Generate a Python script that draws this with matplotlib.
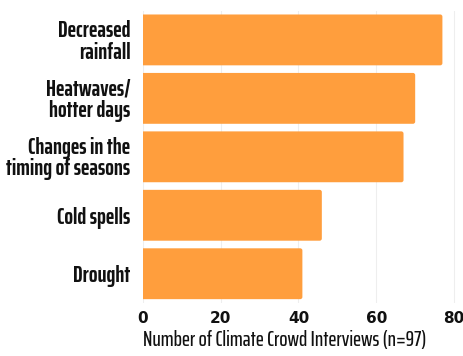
import matplotlib
matplotlib.use('Agg')
import matplotlib.pyplot as plt
from matplotlib.patches import FancyBboxPatch

# Chart data
categories = ['Decreased\nrainfall', 'Heatwaves/\nhotter days', 'Changes in the\ntiming of seasons',
              'Cold spells', 'Drought']
counts = [77, 70, 67, 46, 41]
xticks = [0, 20, 40, 60, 80]
xlabel = 'Number of Climate Crowd Interviews (n=97)'

label_font = ['Saira ExtraCondensed', 'DejaVu Sans']
bar_color = '#FF9E3D'

fig = plt.figure(figsize=(4.64, 3.56), dpi=100)
ax = fig.add_axes([0.308, 0.149, 0.679, 0.821])
ax.set_ylim(len(counts) - 0.5, -0.5)
ax.set_xlim(0, 81)

# bars with slightly rounded ends (left corners fall outside the axes and get clipped)
bars = ax.barh(range(len(counts)), counts, height=0.87, color='none')
px_x = ax.get_position().width * 464 / 81
px_y = ax.get_position().height * 356 / len(counts)
r = 2.2 / px_x
for b in bars:
    p = FancyBboxPatch((-1, b.get_y()), b.get_width() + 1, b.get_height(),
                       boxstyle=f'round,pad=0,rounding_size={r}',
                       mutation_aspect=px_x / px_y,
                       facecolor=bar_color, edgecolor='none', zorder=2)
    ax.add_patch(p)

ax.set_yticks(range(len(categories)))
ax.set_yticklabels(categories, fontsize=16.5, fontweight='bold', family=label_font,
                   linespacing=0.95, color='#111111')
ax.set_xticks(xticks)
ax.set_xticklabels([str(t) for t in xticks], fontsize=11, fontweight='bold', color='#111111')
ax.tick_params(axis='both', length=0)
ax.tick_params(axis='y', pad=9)
ax.tick_params(axis='x', pad=6)

ax.set_xlabel(xlabel, fontsize=15.5, family=label_font, fontweight='medium',
              color='#111111', labelpad=3, loc='left')

ax.grid(axis='x', color='#EEEEEE', linewidth=0.8, zorder=0)
ax.set_axisbelow(True)
for s in ax.spines.values():
    s.set_visible(False)

fig.savefig('out.png', dpi=100)
